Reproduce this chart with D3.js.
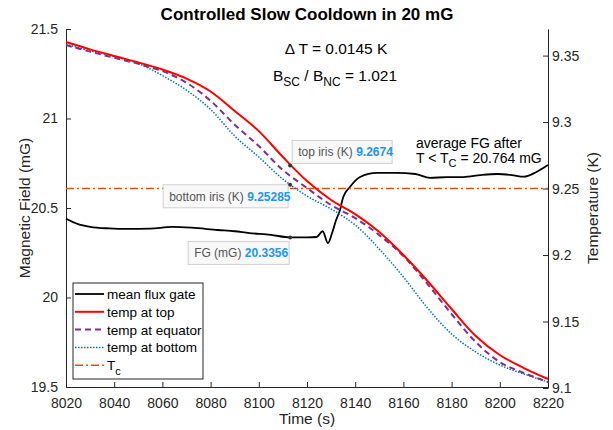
<!DOCTYPE html>
<html>
<meta charset="utf-8">
<head>
  <title>Controlled Slow Cooldown in 20 mG</title>
</head>

<style>
body { margin: 0; background: #fff; }
svg text { font-family: "Liberation Sans", Arial, Helvetica, sans-serif; fill: #262626; }
.axis path, .axis line { stroke: #262626; }
.axis text { font-size: 14px; fill: #262626; font-family: "Liberation Sans", Arial, sans-serif; }
</style>

<body>
  <div id="content">
    <svg width="613" height="430"></svg>
  </div>

<script src="https://cdn.jsdelivr.net/npm/d3@7/dist/d3.min.js"></script>
  <script>
var width = 613, height = 430

// temperature sensors, read every 10 s
var tempTime = [8020, 8030, 8040, 8050, 8060, 8070, 8080, 8090, 8100, 8110, 8120,
                8130, 8140, 8150, 8160, 8170, 8180, 8190, 8200, 8210, 8220]
var tempTop = [9.3602, 9.3547, 9.3497, 9.3449, 9.3395, 9.3327, 9.3230, 9.3083, 9.2932, 9.2737, 9.2556,
               9.2414, 9.2308, 9.2173, 9.2000, 9.1805, 9.1594, 9.1391, 9.1248, 9.1150, 9.1068]
var tempEquator = [9.3579, 9.3530, 9.3483, 9.3438, 9.3383, 9.3296, 9.3160, 9.2980, 9.2820, 9.2639, 9.2504,
                   9.2376, 9.2278, 9.2150, 9.1992, 9.1782, 9.1556, 9.1346, 9.1195, 9.1113, 9.1045]
var tempBottom = [9.3586, 9.3536, 9.3494, 9.3440, 9.3350, 9.3240, 9.3095, 9.2895, 9.2737, 9.2571, 9.2444,
                  9.2346, 9.2226, 9.2045, 9.1835, 9.1602, 9.1406, 9.1271, 9.1173, 9.1105, 9.1045]

// mean flux gate (mG)
var fgTime = [8020, 8025, 8030, 8038, 8045, 8055, 8064, 8072, 8083, 8090, 8096, 8105, 8113, 8120, 8124,
              8126.5, 8128.7, 8130.4, 8132, 8133.7, 8135, 8137.8, 8142, 8149, 8157, 8165, 8171, 8178,
              8185, 8192, 8199, 8205, 8210, 8215, 8220]
var fgValue = [20.44, 20.41, 20.395, 20.386, 20.383, 20.385, 20.394, 20.39, 20.377, 20.37, 20.36, 20.35, 20.3356, 20.336, 20.338,
               20.37, 20.304, 20.36, 20.43, 20.489, 20.56, 20.617, 20.673, 20.696, 20.696, 20.69, 20.668, 20.673,
               20.673, 20.684, 20.69, 20.684, 20.675, 20.70, 20.74]

var tc = 9.25
var tipTime = 8113
var tipTop = 9.2674, tipBottom = 9.25285, tipFG = 20.3356

var xTicks = [8020, 8040, 8060, 8080, 8100, 8120, 8140, 8160, 8180, 8200, 8220]
var leftTicks = [19.5, 20, 20.5, 21, 21.5]
var rightTicks = [9.1, 9.15, 9.2, 9.25, 9.3, 9.35]

var seriesNames = ['mean flux gate', 'temp at top', 'temp at equator', 'temp at bottom', 'T']

var svg = d3.select('svg')

var x = d3.scaleLinear().domain([8020, 8220]).range([66, 548])
var yL = d3.scaleLinear().domain([19.5, 21.5]).range([387, 29])
var yR = d3.scaleLinear().domain([9.1, 9.37]).range([388, 29])

// axes, ticks inward like matlab
svg.append('g').attr('class', 'axis')
  .attr('transform', 'translate(0,387)')
  .call(d3.axisBottom(x).tickValues(xTicks).tickFormat(d3.format('d'))
    .tickSizeInner(-5).tickSizeOuter(0).tickPadding(11))

svg.append('g').attr('class', 'axis')
  .attr('transform', 'translate(66,0)')
  .call(d3.axisLeft(yL).tickValues(leftTicks).tickFormat(function(d) { return String(d) })
    .tickSizeInner(-5).tickSizeOuter(0).tickPadding(8))

svg.append('g').attr('class', 'axis')
  .attr('transform', 'translate(548,0)')
  .call(d3.axisRight(yR).tickValues(rightTicks).tickFormat(function(d) { return String(d) })
    .tickSizeInner(-5).tickSizeOuter(0).tickPadding(4))

// lines
var lineR = d3.line()
  .x(function(d) { return x(d[0]) })
  .y(function(d) { return yR(d[1]) })
  .curve(d3.curveCatmullRom.alpha(0.5))
var lineL = d3.line()
  .x(function(d) { return x(d[0]) })
  .y(function(d) { return yL(d[1]) })
  .curve(d3.curveMonotoneX)

function pairs(a, b) { return a.map(function(v, i) { return [v, b[i]] }) }

svg.append('path').datum(pairs(fgTime, fgValue))
  .attr('d', lineL).attr('fill', 'none').attr('stroke', '#000').attr('stroke-width', 1.8)

svg.append('line')
  .attr('x1', x(8020)).attr('x2', x(8220)).attr('y1', yR(tc)).attr('y2', yR(tc))
  .attr('stroke', '#D95319').attr('stroke-width', 1.5).attr('stroke-dasharray', '8,3,2,3')

svg.append('path').datum(pairs(tempTime, tempBottom))
  .attr('d', lineR).attr('fill', 'none').attr('stroke', '#0072BD').attr('stroke-width', 1.5)
  .attr('stroke-dasharray', '1.5,1.5')
svg.append('path').datum(pairs(tempTime, tempEquator))
  .attr('d', lineR).attr('fill', 'none').attr('stroke', '#7E2F8E').attr('stroke-width', 2)
  .attr('stroke-dasharray', '6,4')
svg.append('path').datum(pairs(tempTime, tempTop))
  .attr('d', lineR).attr('fill', 'none').attr('stroke', '#FF0000').attr('stroke-width', 2)

// data tips
function dataTip(px, py, label, value, dx, dy, w) {
  var g = svg.append('g')
  g.append('rect').attr('x', px + dx).attr('y', py + dy).attr('width', w).attr('height', 23)
    .attr('fill', '#f8f8f8').attr('stroke', '#cfcfcf').attr('stroke-width', 1)
  var t = g.append('text').attr('x', px + dx + 6).attr('y', py + dy + 16).style('font-size', '12px')
  t.append('tspan').text(label + ' ').style('fill', '#555')
  t.append('tspan').text(value).style('fill', '#1E96F0').style('font-weight', 'bold')
  svg.append('circle').attr('cx', px).attr('cy', py).attr('r', 2).attr('fill', '#333')
}
dataTip(x(tipTime), yR(tipTop), 'top iris (K)', tipTop, 2, -25, 100)
dataTip(x(tipTime), yR(tipBottom), 'bottom iris (K)', tipBottom, -127, 0, 125)
dataTip(x(tipTime), yL(tipFG), 'FG (mG)', tipFG, -102, 4, 101)

// title and text
svg.append('text').attr('x', 307).attr('y', 20).attr('text-anchor', 'middle')
  .style('font-size', '17px').style('font-weight', 'bold').style('fill', '#000')
  .text('Controlled Slow Cooldown in 20 mG')

svg.append('text').attr('x', 336).attr('y', 54).attr('text-anchor', 'middle')
  .style('font-size', '15.5px').style('fill', '#000')
  .text('\u0394 T = 0.0145 K')

var bt = svg.append('text').attr('x', 273).attr('y', 81).style('font-size', '15.5px').style('fill', '#000')
bt.append('tspan').text('B')
bt.append('tspan').attr('dy', 5).style('font-size', '12px').text('SC')
bt.append('tspan').attr('dy', -5).text(' / B')
bt.append('tspan').attr('dy', 5).style('font-size', '12px').text('NC')
bt.append('tspan').attr('dy', -5).text(' = 1.021')

svg.append('text').attr('x', 416).attr('y', 148).style('font-size', '14px').style('fill', '#000')
  .text('average FG after')
var at = svg.append('text').attr('x', 416).attr('y', 163).style('font-size', '14px').style('fill', '#000')
at.append('tspan').text('T < T')
at.append('tspan').attr('dy', 4).style('font-size', '11px').text('C')
at.append('tspan').attr('dy', -4).text(' = 20.764 mG')

// axis labels
svg.append('text').attr('transform', 'translate(30,208) rotate(-90)').attr('text-anchor', 'middle')
  .style('font-size', '15.5px').text('Magnetic Field (mG)')
svg.append('text').attr('transform', 'translate(598,208) rotate(-90)').attr('text-anchor', 'middle')
  .style('font-size', '15.5px').text('Temperature (K)')
svg.append('text').attr('x', 307).attr('y', 424).attr('text-anchor', 'middle')
  .style('font-size', '15.5px').text('Time (s)')

// legend
var legend = svg.append('g')
legend.append('rect').attr('x', 73).attr('y', 283).attr('width', 130).attr('height', 96)
  .attr('fill', '#fff').attr('stroke', '#262626').attr('stroke-width', 1)
var legStyle = [
  {color: '#000', dash: null, w: 1.8},
  {color: '#FF0000', dash: null, w: 2},
  {color: '#7E2F8E', dash: '6,4', w: 2},
  {color: '#0072BD', dash: '1.5,1.5', w: 1.5},
  {color: '#D95319', dash: '8,3,2,3', w: 1.5}
]
seriesNames.forEach(function(name, i) {
  var yy = 294 + i * 17.8
  legend.append('line').attr('x1', 75).attr('x2', 104).attr('y1', yy).attr('y2', yy)
    .attr('stroke', legStyle[i].color).attr('stroke-width', legStyle[i].w)
    .attr('stroke-dasharray', legStyle[i].dash)
  var t = legend.append('text').attr('x', 107).attr('y', yy + 5).style('font-size', '13.5px').style('fill', '#000')
  t.append('tspan').text(name)
  if (i == 4) t.append('tspan').attr('dy', 5).style('font-size', '11px').text('c')
})
  </script>
</body>
</html>
